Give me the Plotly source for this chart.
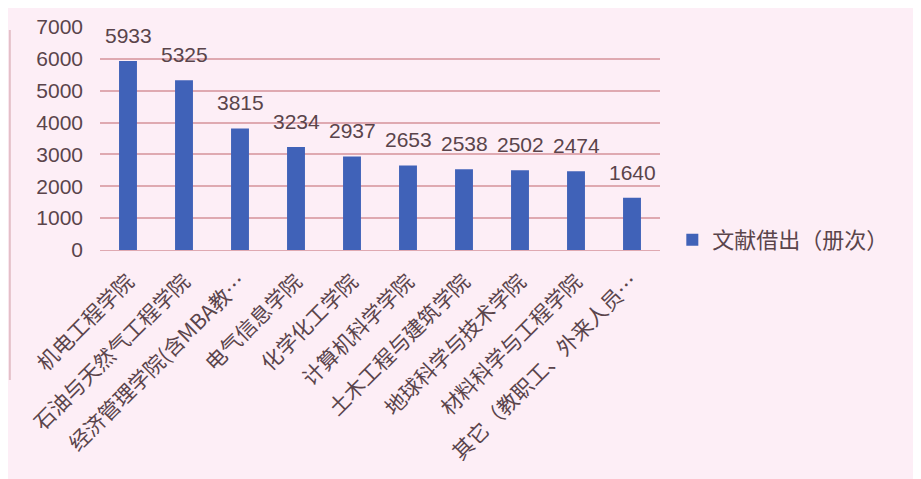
import plotly.graph_objects as go

categories = ["机电工程学院", "石油与天然气工程学院", "经济管理学院(含MBA教…", "电气信息学院",
              "化学化工学院", "计算机科学学院", "土木工程与建筑学院", "地球科学与技术学院",
              "材料科学与工程学院", "其它（教职工、外来人员…"]
values = [5933, 5325, 3815, 3234, 2937, 2653, 2538, 2502, 2474, 1640]
series_name = "文献借出（册次）"
y_ticks = [0, 1000, 2000, 3000, 4000, 5000, 6000, 7000]

font_family = "Noto Sans CJK SC, Liberation Sans, sans-serif"
num_family = "Liberation Sans, Noto Sans CJK SC, sans-serif"
text_color = "#5A444B"
bg = "#FDEEF6"
grid = "#DFA9B1"

fig = go.Figure()
fig.add_trace(go.Bar(
    x=categories, y=values, name=series_name,
    marker=dict(color="#4062B8", line=dict(width=0)),
    width=0.32, cliponaxis=False, showlegend=True,
))

for c, v in zip(categories, values):
    fig.add_annotation(x=c, y=v, text=str(v), showarrow=False, yanchor="bottom",
                       yshift=12, font=dict(size=21, color=text_color, family=num_family))

fig.update_layout(
    width=921, height=479,
    margin=dict(l=92, r=269, t=19, b=237),
    paper_bgcolor=bg, plot_bgcolor=bg,
    font=dict(family=font_family, color=text_color),
    showlegend=True,
    legend=dict(x=1.022, y=0.045, xanchor="left", yanchor="middle",
                font=dict(size=22, color=text_color, family=font_family),
                bgcolor="rgba(0,0,0,0)", itemwidth=30),
    xaxis=dict(tickangle=-45, tickfont=dict(size=21, color=text_color, family=font_family),
               showgrid=False, showline=True, linecolor=grid, linewidth=1,
               ticks="", automargin=False, ticklabelstandoff=10),
    yaxis=dict(range=[0, 7000], tickvals=y_ticks,
               tickfont=dict(size=21, color=text_color, family=num_family),
               showgrid=True, gridcolor=grid, gridwidth=1.5,
               zeroline=False, showline=False, ticks="", ticklabelstandoff=16,
               automargin=False),
)

fig.add_shape(type="line", xref="paper", yref="paper", x0=-0.161, x1=-0.161, y0=-0.583, y1=0.987,
              line=dict(color="#E4BFC8", width=2))

fig.write_html("out.html")
